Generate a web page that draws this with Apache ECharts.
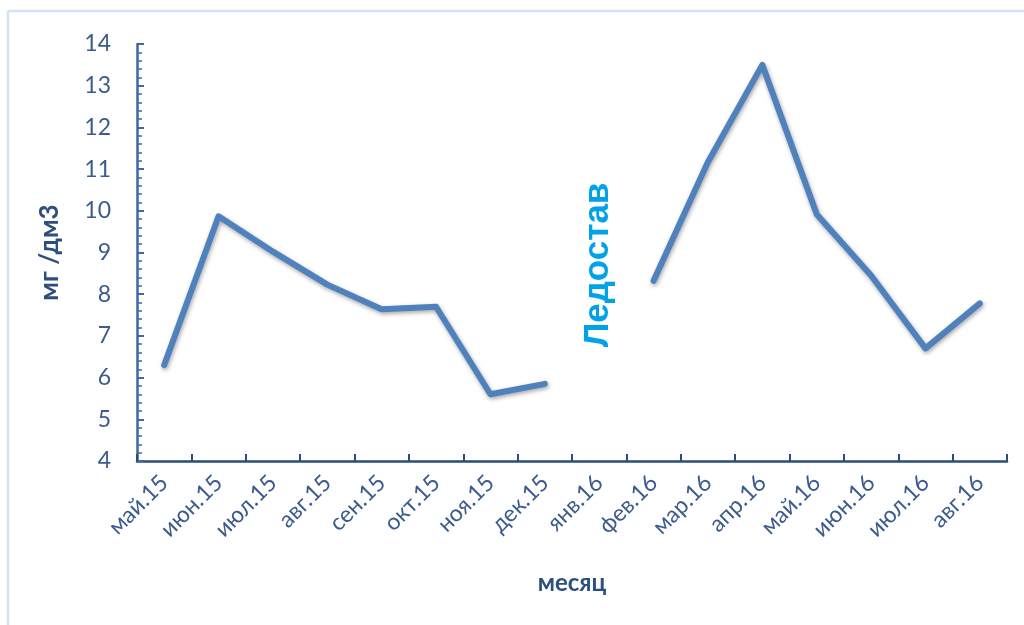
<!DOCTYPE html>
<html>
<head>
<meta charset="utf-8">
<script src="https://cdn.jsdelivr.net/npm/echarts@6/dist/echarts.min.js"></script>
<style>
  html, body { margin: 0; padding: 0; background: #ffffff; }
  #chart { width: 1024px; height: 625px; }
</style>
</head>
<body>
<div id="chart"></div>
<script>
// Monthly concentration, mg/dm3; January 2016 has no sample (ice cover)
const months = ['май.15', 'июн.15', 'июл.15', 'авг.15', 'сен.15', 'окт.15', 'ноя.15', 'дек.15',
                'янв.16', 'фев.16', 'мар.16', 'апр.16', 'май.16', 'июн.16', 'июл.16', 'авг.16'];
const values = [6.3, 9.87, 9.02, 8.23, 7.64, 7.7, 5.6, 5.85,
                null, 8.32, 11.17, 13.5, 9.92, 8.45, 6.7, 7.78];
const yTicks = { min: 4, max: 14, step: 1 };
const xName = 'месяц';
const yName = 'мг /дм3';
const noteText = 'Ледостав';

const font = 'Lato, "Open Sans", "Liberation Sans", sans-serif';
const labelColor = '#3b5b8e';

const chart = echarts.init(document.getElementById('chart'));
chart.setOption({
  backgroundColor: '#ffffff',
  animation: false,
  grid: { left: 137, top: 44, right: 17, bottom: 164 },
  xAxis: {
    type: 'category',
    data: months,
    boundaryGap: true,
    name: xName,
    nameLocation: 'middle',
    nameGap: 110,
    nameTextStyle: { fontFamily: font, fontSize: 24, fontWeight: 'bold', color: '#2d4f80' },
    axisLine: { lineStyle: { color: '#2b4b7d', width: 2.5 } },
    axisTick: { show: true, inside: true, length: 7, alignWithLabel: false, lineStyle: { color: '#2b4b7d', width: 2 } },
    axisLabel: { rotate: 45, interval: 0, margin: 18, fontFamily: font, fontSize: 23, color: labelColor }
  },
  yAxis: {
    type: 'value',
    min: yTicks.min,
    max: yTicks.max,
    interval: yTicks.step,
    name: yName,
    nameLocation: 'middle',
    nameGap: 74,
    nameRotate: 90,
    nameTextStyle: { fontFamily: font, fontSize: 26, fontWeight: 'bold', color: '#2d4f80' },
    axisLine: { show: true, lineStyle: { color: '#3f67a5', width: 2.5 } },
    axisTick: { show: true, inside: true, length: 7, lineStyle: { color: '#3f67a5', width: 2 } },
    minorTick: { show: true, splitNumber: 5, length: 5, lineStyle: { color: '#3f67a5', width: 1.5 } },
    splitLine: { show: false },
    axisLabel: { margin: 26, fontFamily: font, fontSize: 23, color: labelColor }
  },
  series: [{
    type: 'line',
    data: values,
    connectNulls: false,
    symbol: 'none',
    lineStyle: {
      color: '#4f81bd', width: 6, cap: 'round', join: 'round',
      shadowColor: 'rgba(0,0,0,0.35)', shadowBlur: 4, shadowOffsetX: 1, shadowOffsetY: 2
    }
  }],
  graphic: [
    // light frame along the top and left edges
    { type: 'line', shape: { x1: 8, y1: 11, x2: 1024, y2: 11 }, style: { stroke: '#d3e2f4', lineWidth: 2.5 } },
    { type: 'line', shape: { x1: 8, y1: 11, x2: 8, y2: 625 }, style: { stroke: '#d3e2f4', lineWidth: 2.5 } },
    {
      type: 'text',
      x: 598, y: 265,
      rotation: Math.PI / 2,
      style: {
        text: noteText,
        fontFamily: '"Liberation Sans", Arial, sans-serif',
        fontSize: 35,
        fontWeight: 'bold',
        fill: '#00a3e8',
        align: 'center',
        verticalAlign: 'middle'
      }
    }
  ]
});
</script>
</body>
</html>
